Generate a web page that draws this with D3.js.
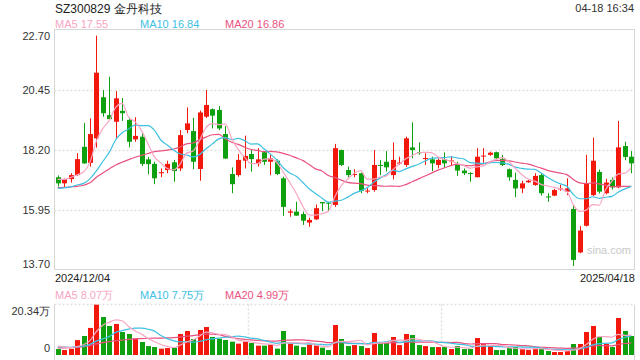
<!DOCTYPE html>
<html>
<head>
<meta charset="utf-8">
<script src="https://cdn.jsdelivr.net/npm/d3@7/dist/d3.min.js"></script>
<style>
  html, body { margin: 0; padding: 0; background: #fff; }
  svg text { font-family: "Liberation Sans", Arial, sans-serif; }
</style>
</head>
<body>
<div id="chart"></div>
<script>
// trading days shown on the chart
const dates = [
  '2024/12/04','2024/12/05','2024/12/06','2024/12/09','2024/12/10','2024/12/11','2024/12/12','2024/12/13',
  '2024/12/16','2024/12/17','2024/12/18','2024/12/19','2024/12/20','2024/12/23','2024/12/24','2024/12/25',
  '2024/12/26','2024/12/27','2024/12/30','2024/12/31',
  '2025/01/02','2025/01/03','2025/01/06','2025/01/07','2025/01/08','2025/01/09','2025/01/10','2025/01/13',
  '2025/01/14','2025/01/15','2025/01/16','2025/01/17','2025/01/20','2025/01/21','2025/01/22','2025/01/23',
  '2025/01/24','2025/01/27',
  '2025/02/05','2025/02/06','2025/02/07','2025/02/10','2025/02/11','2025/02/12','2025/02/13','2025/02/14',
  '2025/02/17','2025/02/18','2025/02/19','2025/02/20','2025/02/21','2025/02/24','2025/02/25','2025/02/26',
  '2025/02/27','2025/02/28',
  '2025/03/03','2025/03/04','2025/03/05','2025/03/06','2025/03/07','2025/03/10','2025/03/11','2025/03/12',
  '2025/03/13','2025/03/14','2025/03/17','2025/03/18','2025/03/19','2025/03/20','2025/03/21','2025/03/24',
  '2025/03/25','2025/03/26','2025/03/27','2025/03/28','2025/03/31',
  '2025/04/01','2025/04/02','2025/04/03','2025/04/07','2025/04/08','2025/04/09','2025/04/10','2025/04/11',
  '2025/04/14','2025/04/15','2025/04/16','2025/04/17','2025/04/18'
];

const open = [
  17.16,16.93,17.09,17.24,18.30,17.70,18.62,20.16,19.49,19.24,
  19.65,19.31,18.58,18.68,17.83,17.66,17.31,17.43,17.72,17.49,
  18.93,18.89,17.47,19.43,19.71,19.68,18.78,17.28,17.24,17.78,
  18.03,17.68,18.10,17.74,17.78,17.12,15.83,15.87,15.78,15.46,
  15.58,16.23,16.21,16.12,18.18,17.43,17.25,17.31,16.63,16.68,
  17.62,17.74,17.24,17.69,17.62,18.28,18.10,17.86,17.83,17.62,
  17.83,17.77,17.66,17.41,17.32,17.16,17.95,18.00,18.10,17.84,
  17.46,17.06,16.74,16.97,16.87,17.24,16.44,16.47,16.72,16.62,
  15.97,14.34,15.34,16.49,17.36,16.56,17.06,16.78,18.33,17.93
];
const high = [
  17.23,17.11,17.31,18.06,19.20,19.37,22.47,20.43,20.93,20.39,
  20.13,19.39,19.41,18.81,17.92,17.74,17.49,17.78,17.81,18.93,
  19.78,19.39,19.66,20.43,19.74,19.83,19.08,17.53,18.03,18.72,
  18.18,18.25,18.11,18.00,17.83,17.18,15.96,16.24,15.87,15.64,
  16.14,16.23,16.22,18.41,18.20,17.56,17.46,17.33,16.75,18.18,
  17.81,18.14,18.46,17.93,18.68,19.22,18.47,18.06,17.93,17.87,
  18.09,17.95,17.74,17.49,17.34,18.25,18.25,18.12,18.12,18.00,
  17.49,17.33,17.03,17.06,17.31,17.31,16.56,16.72,16.87,17.12,
  16.12,15.33,18.00,18.64,17.45,17.10,17.15,19.27,18.49,18.14
];
const low = [
  16.81,16.77,16.96,17.21,17.66,17.56,18.27,19.43,19.31,18.62,
  19.27,18.28,18.49,17.58,17.27,16.90,17.16,17.31,16.99,17.39,
  18.81,17.46,17.03,19.38,18.99,18.93,17.84,16.56,17.18,17.49,
  17.37,17.56,17.62,17.24,17.24,15.71,15.68,15.72,15.37,15.30,
  15.56,15.89,15.89,16.05,17.58,17.16,17.16,16.56,16.56,16.62,
  17.24,17.37,17.08,17.62,17.55,17.87,18.00,17.62,17.39,17.49,
  17.52,17.62,17.21,17.24,16.99,17.16,17.70,17.96,17.84,17.58,
  17.03,16.41,16.56,16.95,16.84,16.47,16.24,16.45,16.65,16.49,
  13.83,14.31,15.31,16.45,16.55,16.52,16.70,16.75,17.80,17.31
];
const close = [
  16.93,17.09,17.24,17.84,17.68,18.78,21.08,19.56,19.34,20.12,
  19.56,18.49,18.71,17.66,17.65,17.12,17.35,17.66,17.39,18.74,
  19.18,17.74,19.59,19.87,19.47,18.99,17.86,16.90,17.81,17.96,
  17.84,17.83,17.74,17.87,17.28,16.05,15.88,15.72,15.53,15.56,
  16.00,16.18,16.17,18.25,17.62,17.24,17.28,16.65,16.66,17.62,
  17.60,17.53,17.81,17.71,18.62,18.18,18.07,17.88,17.68,17.81,
  17.68,17.79,17.41,17.31,17.30,17.93,17.97,18.08,17.87,17.62,
  17.16,16.74,16.93,17.03,17.21,16.56,16.42,16.68,16.74,16.74,
  14.06,15.16,16.93,17.78,16.62,16.96,16.78,18.28,17.92,17.68
];
// volume, in 万 shares
const volume = [
  2.4,2.0,2.5,6.0,7.65,10.9,20.26,15.3,11.7,12.5,
  9.26,8.46,6.58,5.24,3.6,3.2,2.55,2.8,2.96,8.46,
  9.67,6.44,10.07,11.28,7.25,6.58,6.04,5.37,4.57,5.37,
  4.83,3.76,3.76,4.16,2.55,9.67,4.57,3.76,3.2,4.16,
  3.9,2.96,2.0,12.08,6.44,3.6,4.0,3.6,2.8,8.86,
  4.83,5.1,7.25,4.0,8.46,8.06,4.0,3.6,3.2,3.2,
  3.2,2.4,3.6,2.4,2.4,6.85,4.43,3.6,2.0,2.0,
  2.8,3.2,2.4,2.0,2.4,2.8,1.6,1.2,1.2,1.6,
  4.43,4.43,9.26,11.7,7.25,4.43,3.2,14.9,9.67,7.65
];

const ma5Lead = [17.08, 17.08, 17.15, 17.25];
const ma10Lead = [16.74, 16.76, 16.80, 16.87, 16.93, 17.10, 17.40, 17.75, 18.10];
const ma20Lead = [16.77, 16.78, 16.80, 16.82, 16.86, 16.95, 17.16, 17.32, 17.47, 17.62,
                  17.72, 17.82, 17.91, 17.98, 18.05, 18.12, 18.15, 18.18, 18.22];
const volMa5Lead = [3.6, 3.2, 3.0, 3.4];
const volMa10Lead = [3.3, 3.2, 3.1, 3.3, 3.6, 4.3, 5.6, 6.5, 7.4];
const volMa20Lead = [2.9, 2.9, 3.0, 3.1, 3.4, 3.8, 4.5, 5.0, 5.4, 5.8,
                     6.0, 6.3, 6.5, 6.6, 6.7, 6.8, 6.8, 6.9, 7.0];

const priceTicks = [22.70, 20.45, 18.20, 15.95, 13.70];
const volMax = 20.34;
const priceLegend = ['MA5 17.55', 'MA10 16.84', 'MA20 16.86'];
const volLegend = ['MA5 8.07万', 'MA10 7.75万', 'MA20 4.99万'];

const W = 640, H = 360;
const left = 54.5, right = 634.5;
const mainTop = 29.5, mainBottom = 269.5;
const volTop = 304.5, volBottom = 355;

const RED = '#f2190c', GREEN = '#0ea00e';
const C5 = '#f7a6c3', C10 = '#3ec0e2', C20 = '#e9527f';
const GRID = '#e0e0e0';
const BORDER = '#d6d6d6';

function movingAvg(vals, n, lead) {
  return vals.map((v, i) => {
    if (i < n - 1) return lead[i];
    return d3.mean(vals.slice(i - n + 1, i + 1));
  });
}

const svg = d3.select('#chart').append('svg')
  .attr('width', W).attr('height', H);

const x = d3.scaleBand().domain(dates).range([left, right]).paddingInner(0.34).paddingOuter(0.17);
const cx = d => Math.round(x(d) + x.bandwidth() / 2) + 0.5;
const bw = 4;
const y = d3.scaleLinear().domain([13.70, 22.70]).range([mainBottom, mainTop]);
const yv = d3.scaleLinear().domain([0, volMax]).range([volBottom, volTop]);

// header
svg.append('text').attr('x', 55).attr('y', 12.5)
  .attr('font-size', 12).attr('fill', '#222').text('SZ300829 金丹科技');
svg.append('text').attr('x', 634).attr('y', 12).attr('text-anchor', 'end')
  .attr('font-size', 11).attr('fill', '#333').text('04-18 16:34');

function legend(yPos, labels) {
  [C5, C10, C20].forEach((c, i) => {
    svg.append('text').attr('x', 55 + i * 85).attr('y', yPos)
      .attr('font-size', 11).attr('fill', c).text(labels[i]);
  });
}
legend(28, priceLegend);
legend(299, volLegend);

// ---- main panel frame & grid
const main = svg.append('g');
main.selectAll('line.grid').data(priceTicks.slice(1, -1)).enter().append('line')
  .attr('x1', left).attr('x2', right)
  .attr('y1', d => Math.round(y(d)) + 0.5).attr('y2', d => Math.round(y(d)) + 0.5)
  .attr('stroke', GRID).attr('stroke-width', 1.5).attr('stroke-dasharray', '2,2');
main.append('rect').attr('x', left).attr('y', mainTop)
  .attr('width', right - left).attr('height', mainBottom - mainTop)
  .attr('fill', 'none').attr('stroke', BORDER);

// price labels (top and bottom pulled inside)
main.selectAll('text.tick').data(priceTicks).enter().append('text')
  .attr('x', 50).attr('text-anchor', 'end').attr('font-size', 11).attr('fill', '#333')
  .attr('y', (d, i) => {
    let yy = y(d);
    if (i === 0) yy += 6;
    if (i === priceTicks.length - 1) yy -= 6;
    return yy + 4;
  })
  .text(d => d3.format('.2f')(d));

// watermark
main.append('text').attr('x', 587).attr('y', 254)
  .attr('font-size', 11).attr('fill', '#c8c8c8').text('sina.com');

// candles
const candles = main.append('g');
dates.forEach((d, i) => {
  const up = close[i] >= open[i];
  const col = up ? RED : GREEN;
  const xc = cx(d);
  candles.append('line')
    .attr('x1', xc).attr('x2', xc)
    .attr('y1', y(high[i])).attr('y2', y(low[i]))
    .attr('stroke', col).attr('stroke-width', 1);
  const top = y(Math.max(open[i], close[i]));
  const bot = y(Math.min(open[i], close[i]));
  candles.append('rect')
    .attr('x', xc - 0.5 - bw / 2).attr('width', bw + 1)
    .attr('y', top).attr('height', Math.max(1, bot - top))
    .attr('fill', col);
});

// moving average lines
const lineP = vals => d3.line().curve(d3.curveMonotoneX)
  .x((v, i) => x(dates[i]) + x.bandwidth() / 2).y(v => y(v))(vals);
[[movingAvg(close, 20, ma20Lead), C20], [movingAvg(close, 10, ma10Lead), C10], [movingAvg(close, 5, ma5Lead), C5]]
  .forEach(([vals, c]) => {
    main.append('path').attr('d', lineP(vals)).attr('fill', 'none')
      .attr('stroke', c).attr('stroke-width', 1.2);
  });

// date labels
svg.append('text').attr('x', 55).attr('y', 282).attr('font-size', 11).attr('fill', '#222')
  .text(dates[0]);
svg.append('text').attr('x', 635).attr('y', 282).attr('font-size', 11).attr('fill', '#222')
  .attr('text-anchor', 'end').text(dates[dates.length - 1]);

// ---- volume panel
const vol = svg.append('g');
vol.append('line').attr('x1', left).attr('x2', right).attr('y1', volTop).attr('y2', volTop)
  .attr('stroke', GRID).attr('stroke-width', 1.5).attr('stroke-dasharray', '2,2');
[1, 2].forEach(k => {
  const xx = Math.round(left + (right - left) * k / 3) + 0.5;
  vol.append('line').attr('x1', xx).attr('x2', xx).attr('y1', volTop).attr('y2', H)
    .attr('stroke', GRID).attr('stroke-width', 1.5).attr('stroke-dasharray', '2,2');
});
[left, right].forEach(xx => {
  vol.append('line').attr('x1', xx).attr('x2', xx).attr('y1', volTop).attr('y2', H)
    .attr('stroke', BORDER);
});

vol.selectAll('rect.bar').data(dates).enter().append('rect')
  .attr('x', d => cx(d) - 0.5 - bw / 2).attr('width', bw + 1)
  .attr('y', (d, i) => yv(volume[i]))
  .attr('height', (d, i) => volBottom - yv(volume[i]))
  .attr('fill', (d, i) => close[i] >= open[i] ? RED : GREEN);

const lineV = vals => d3.line().curve(d3.curveMonotoneX)
  .x((v, i) => x(dates[i]) + x.bandwidth() / 2).y(v => yv(v))(vals);
[[movingAvg(volume, 20, volMa20Lead), C20], [movingAvg(volume, 10, volMa10Lead), C10], [movingAvg(volume, 5, volMa5Lead), C5]]
  .forEach(([vals, c]) => {
    vol.append('path').attr('d', lineV(vals)).attr('fill', 'none')
      .attr('stroke', c).attr('stroke-width', 1.2);
  });

svg.append('text').attr('x', 50).attr('y', 315).attr('text-anchor', 'end')
  .attr('font-size', 11).attr('fill', '#333').text(volMax + '万');
svg.append('text').attr('x', 50).attr('y', 352).attr('text-anchor', 'end')
  .attr('font-size', 11).attr('fill', '#333').text('0');
</script>
</body>
</html>
